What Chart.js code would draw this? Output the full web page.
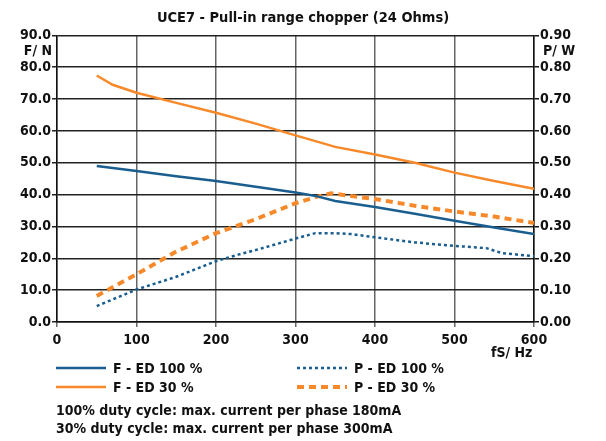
<!DOCTYPE html>
<html>
<head>
<meta charset="utf-8">
<script src="https://cdn.jsdelivr.net/npm/chart.js@4"></script>
<style>
  body { margin: 0; background: #fff; font-family: "DejaVu Sans Condensed", "DejaVu Sans", sans-serif; font-weight: bold; color: #111; }
  #wrap { position: relative; width: 606px; height: 441px; }
  .lbl { position: absolute; font-size: 14px; line-height: 14px; white-space: nowrap; }
  .leg { position: absolute; font-size: 14px; line-height: 14px; white-space: nowrap; display: flex; align-items: center; }
  .leg svg { margin-right: 7px; }
</style>
</head>
<body>
<div id="wrap">
  <canvas id="myChart" width="606" height="441"></canvas>
  <div class="lbl" style="right:554px; top:43px;">F/ N</div>
  <div class="lbl" style="left:543px; top:43px;">P/ W</div>
  <div class="lbl" style="left:491px; top:345px;">fS/ Hz</div>
  <div class="leg" style="left:56px; top:361px;"><svg width="50" height="6"><line x1="0" y1="3" x2="50" y2="3" stroke="#1a5e8f" stroke-width="2.5"/></svg>F - ED 100 %</div>
  <div class="leg" style="left:297px; top:361px;"><svg width="50" height="6"><line x1="0" y1="3" x2="50" y2="3" stroke="#1a5e8f" stroke-width="2.5" stroke-dasharray="3,3"/></svg>P - ED 100 %</div>
  <div class="leg" style="left:56px; top:380px;"><svg width="50" height="6"><line x1="0" y1="3" x2="50" y2="3" stroke="#f7892a" stroke-width="2.5"/></svg>F - ED 30 %</div>
  <div class="leg" style="left:297px; top:380px;"><svg width="50" height="6"><line x1="0" y1="3" x2="50" y2="3" stroke="#f7892a" stroke-width="4" stroke-dasharray="7,5"/></svg>P - ED 30 %</div>
  <div class="lbl" style="left:56px; top:403px;">100% duty cycle: max. current per phase 180mA</div>
  <div class="lbl" style="left:56px; top:421px;">30% duty cycle: max. current per phase 300mA</div>
</div>
<script>
var ctx = document.getElementById('myChart').getContext('2d');

var blue = '#1a5e8f';
var orange = '#f7892a';

// F in N (left axis)
var f100X = [50, 100, 150, 200, 250, 300, 325, 350, 400, 450, 500, 550, 600];
var f100Y = [49.0, 47.4, 45.8, 44.3, 42.5, 40.7, 39.6, 38.0, 36.1, 34.0, 31.8, 29.7, 27.6];

var f30X = [50, 70, 100, 150, 200, 250, 300, 350, 400, 450, 500, 550, 600];
var f30Y = [77.4, 74.5, 72.0, 68.8, 65.7, 62.3, 58.6, 55.0, 52.6, 50.0, 46.9, 44.3, 41.8];

// P in W (right axis)
var p100X = [50, 100, 150, 200, 230, 250, 300, 325, 350, 370, 400, 450, 500, 540, 560, 600];
var p100Y = [0.050, 0.102, 0.142, 0.191, 0.213, 0.226, 0.262, 0.279, 0.279, 0.276, 0.266, 0.250, 0.239, 0.232, 0.216, 0.207];

var p30X = [50, 100, 150, 200, 250, 300, 325, 345, 375, 400, 450, 500, 550, 600];
var p30Y = [0.082, 0.150, 0.221, 0.279, 0.323, 0.373, 0.392, 0.404, 0.394, 0.386, 0.365, 0.347, 0.331, 0.311];

function pts(xs, ys) {
    return xs.map(function (x, i) { return { x: x, y: ys[i] }; });
}

var tickFont = { family: '"DejaVu Sans Condensed", "DejaVu Sans", sans-serif', size: 14, weight: 'bold' };

var chart = new Chart(ctx, {
    type: 'line',
    data: {
        datasets: [{
            label: 'F - ED 100 %',
            data: pts(f100X, f100Y),
            borderColor: blue,
            borderWidth: 2.5,
            yAxisID: 'y'
        },
        {
            label: 'F - ED 30 %',
            data: pts(f30X, f30Y),
            borderColor: orange,
            borderWidth: 2.5,
            yAxisID: 'y'
        },
        {
            label: 'P - ED 100 %',
            data: pts(p100X, p100Y),
            borderColor: blue,
            borderWidth: 2.5,
            borderDash: [3, 3],
            yAxisID: 'y1'
        },
        {
            label: 'P - ED 30 %',
            data: pts(p30X, p30Y),
            borderColor: orange,
            borderWidth: 4,
            borderDash: [7, 5],
            yAxisID: 'y1'
        }]
    },
    options: {
        responsive: false,
        animation: false,
        elements: { point: { radius: 0 }, line: { tension: 0 } },
        layout: { padding: { top: 0, bottom: 89, left: 0, right: 0 } },
        plugins: {
            legend: { display: false },
            tooltip: { enabled: false },
            title: {
                display: true,
                text: 'UCE7 - Pull-in range chopper (24 Ohms)',
                color: '#111',
                font: { family: tickFont.family, size: 14.5, weight: 'bold' },
                padding: { top: 10, bottom: 8 }
            }
        },
        scales: {
            x: {
                type: 'linear',
                min: 0,
                max: 600,
                ticks: { stepSize: 100, color: '#111', font: tickFont, padding: 5 },
                grid: { color: '#666', lineWidth: 1.5, tickLength: 5 },
                border: { color: '#111', width: 1.5 },
                afterFit: function (s) { s.height = 30; }
            },
            y: {
                position: 'left',
                min: 0,
                max: 90,
                ticks: { stepSize: 10, color: '#111', font: tickFont, padding: 1,
                    callback: function (v) { return v.toFixed(1); } },
                grid: { color: '#222', lineWidth: 1.5, tickLength: 5 },
                border: { color: '#111', width: 1.5 },
                afterFit: function (s) { s.width = 57; }
            },
            y1: {
                position: 'right',
                min: 0,
                max: 0.9,
                ticks: { stepSize: 0.1, color: '#111', font: tickFont, padding: 1,
                    callback: function (v) { return v.toFixed(2); } },
                grid: { drawOnChartArea: false, color: '#111', lineWidth: 1.5, tickLength: 5 },
                border: { color: '#111', width: 1.5 },
                afterFit: function (s) { s.width = 72; }
            }
        }
    }
});
</script>
</body>
</html>
